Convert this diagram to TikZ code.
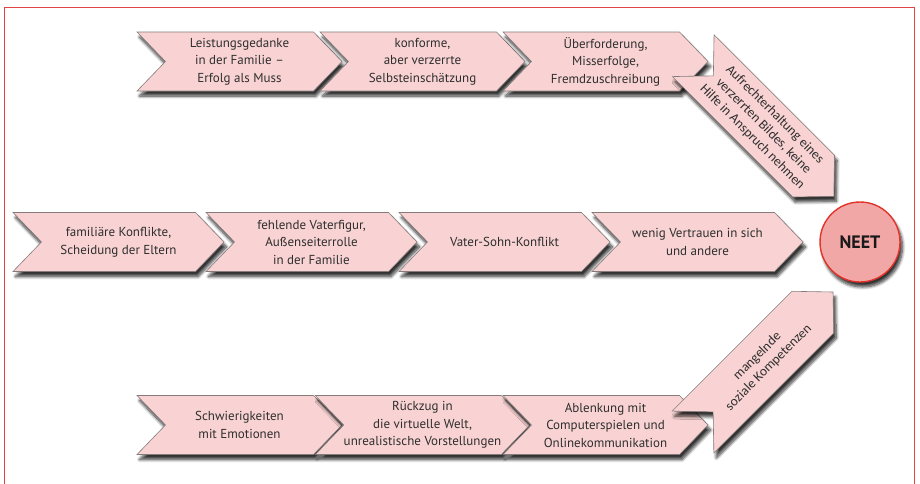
\documentclass[tikz,border=0pt]{standalone}
\usepackage{fontspec}
\setmainfont{PT Sans}
\newfontfamily\slantfont{Carlito}
\usepackage{tikz}
\usetikzlibrary{shapes.symbols, shadows.blur, positioning}
\usepackage{xcolor}
\definecolor{chevfill}{HTML}{F9D3D3}
\definecolor{chevline}{HTML}{857B7B}
\definecolor{neetfill}{HTML}{F2A7A7}
\definecolor{neetline}{HTML}{E2332B}
\definecolor{framered}{HTML}{E24545}
\definecolor{txt}{HTML}{2E2E2E}

\begin{document}
\begin{tikzpicture}[x=1pt,y=-1pt,node distance=183pt,on grid]
    \tikzstyle{softshadow}=[blur shadow={shadow xshift=2.5pt,shadow yshift=-5pt,shadow blur steps=8,shadow blur radius=3pt,shadow opacity=80}]
    \tikzstyle{chevron}=[shape=signal,signal from=west,signal to=east,signal pointer angle=92,draw=chevline,fill=chevfill,line width=0.6pt,minimum width=205pt,minimum height=59pt,inner sep=0pt,align=center,text=txt,font=\fontsize{13}{17.5}\selectfont,softshadow]
    \tikzstyle{wide}=[chevron,minimum width=211pt]
    \tikzstyle{slant}=[chevron,minimum width=198pt,font=\slantfont\fontsize{13.5}{16}\selectfont]
    \tikzstyle{goal}=[shape=circle,draw=neetline,line width=1.4pt,fill=neetfill,minimum size=80pt,inner sep=0pt,text=black!90,font=\bfseries\fontsize{18}{18}\selectfont,softshadow]

    \useasboundingbox (0,0) rectangle (920,483);
    \draw[framered,line width=1pt] (4.5,490) -- (4.5,7) -- (914.5,7) -- (914.5,490);

    % top row
    \node[chevron] (T1) at (239.5,61.5) {Leistungsgedanke\\in der Familie –\\Erfolg als Muss};
    \node[chevron,right=of T1] (T2) {konforme,\\aber verzerrte\\Selbsteinschätzung};
    \node[chevron,right=of T2] (T3) {Überforderung,\\Misserfolge,\\Fremdzuschreibung};

    % middle row
    \node[wide] (M1) at (118.5,242) {familiäre Konflikte,\\Scheidung der Eltern};
    \node[wide,right=193pt of M1] (M2) {fehlende Vaterfigur,\\Außenseiterrolle\\in der Familie};
    \node[wide,right=193pt of M2] (M3) {Vater-Sohn-Konflikt};
    \node[wide,right=193pt of M3] (M4) {wenig Vertrauen in sich\\und andere};

    % bottom row
    \node[chevron] (B1) at (239.5,425) {Schwierigkeiten\\mit Emotionen};
    \node[chevron,right=of B1] (B2) {Rückzug in\\die virtuelle Welt,\\unrealistische Vorstellungen};
    \node[chevron,right=of B2] (B3) {Ablenkung mit\\Computerspielen und\\Onlinekommunikation};

    % turning arrows and goal
    \node[slant,rotate=-45] (S1) at (763.5,126) {Aufrechterhaltung eines\\verzerrten Bildes, keine\\Hilfe in Anspruch nehmen};
    \node[slant,rotate=45] (S2) at (763,362) {mangelnde\\soziale Kompetenzen};
    \node[goal] (N) at (860,242) {NEET};
\end{tikzpicture}
\end{document}
